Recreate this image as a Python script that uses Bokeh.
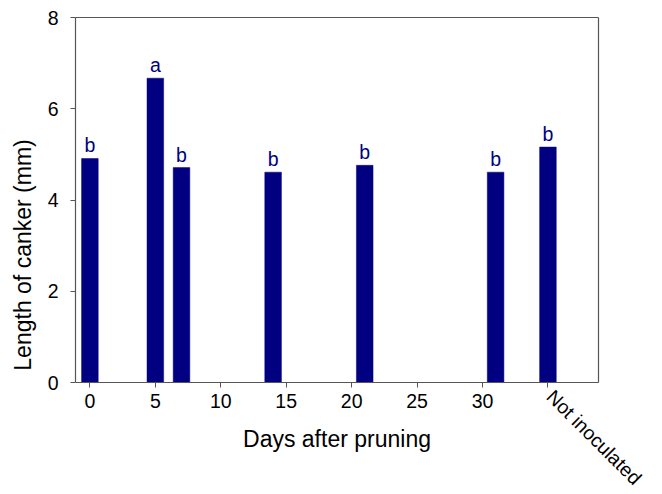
from bokeh.plotting import figure
from bokeh.models import FixedTicker, Label, Range1d, ColumnDataSource, LinearAxis
from bokeh.core.properties import value
from bokeh.embed import file_html
from bokeh.resources import INLINE
import math

# Data
days = [0, 5, 7, 14, 21, 31, 35]          # 35 = "Not inoculated" position
lengths = [4.91, 6.67, 4.71, 4.61, 4.76, 4.61, 5.16]
letters = ["b", "a", "b", "b", "b", "b", "b"]
x_ticks = [0, 5, 10, 15, 20, 25, 30, 35]
x_tick_labels = ["0", "5", "10", "15", "20", "25", "30", ""]
not_inoc_label = "Not inoculated"
y_ticks = [0, 2, 4, 6, 8]

# axis box limits (data units) and extended frame (room for rotated label)
X_LEFT, X_RIGHT = -1.1, 38.9
Y_BOTTOM, Y_TOP = 0, 8
X_FRAME_MAX = 43.6
Y_FRAME_MIN = -2.41

FONT = "Liberation Sans"
NAVY = "#000080"
AXIS = "#555555"

src = ColumnDataSource(dict(x=days, top=lengths, txt=letters))

p = figure(frame_width=585, frame_height=475,
           min_border_left=75, min_border_top=17, min_border_right=0, min_border_bottom=0,
           x_range=Range1d(X_LEFT, X_FRAME_MAX), y_range=Range1d(Y_FRAME_MIN, Y_TOP),
           x_axis_location=None,
           output_backend="svg", toolbar_location=None,
           background_fill_color="white", border_fill_color="white")
p.outline_line_color = None
p.xgrid.visible = False
p.ygrid.visible = False

p.vbar(x="x", top="top", bottom=0, width=1.27, source=src,
       fill_color=NAVY, line_color=NAVY, line_width=0.5)

p.text(x="x", y="top", text="txt", source=src,
       text_font=value(FONT), text_font_size="19.5px", text_color=NAVY,
       text_align="center", text_baseline="alphabetic", y_offset=-13)


def style(ax):
    ax.axis_line_color = AXIS
    ax.axis_line_width = 1.2
    ax.major_tick_line_color = AXIS
    ax.major_tick_in = 0
    ax.major_tick_out = 5
    ax.minor_tick_line_color = None
    ax.major_label_text_font = FONT
    ax.major_label_text_font_size = "19.5px"
    ax.major_label_text_color = "black"
    ax.axis_label_text_font = FONT
    ax.axis_label_text_font_size = "23px"
    ax.axis_label_text_font_style = "normal"
    ax.axis_label_text_color = "black"


# bottom axis, fixed at y=0 inside the extended frame
xax = LinearAxis(fixed_location=Y_BOTTOM, bounds=(X_LEFT, X_RIGHT))
style(xax)
xax.ticker = FixedTicker(ticks=x_ticks)
xax.major_label_overrides = {t: l for t, l in zip(x_ticks, x_tick_labels)}
xax.axis_label = "Days after pruning"
xax.major_label_standoff = 6
xax.axis_label_standoff = 15
p.add_layout(xax, "below")

# left axis
yax = p.yaxis[0]
style(yax)
yax.bounds = (Y_BOTTOM, Y_TOP)
yax.ticker = FixedTicker(ticks=y_ticks)
yax.axis_label = "Length of canker (mm)"
yax.major_label_standoff = 12
yax.axis_label_standoff = 9

# top and right box lines
top_ax = LinearAxis(bounds=(X_LEFT, X_RIGHT), ticker=FixedTicker(ticks=[]),
                    major_tick_out=0, major_tick_in=0, minor_tick_out=0, minor_tick_in=0,
                    major_label_standoff=0, axis_line_color=AXIS, axis_line_width=1.2)
p.add_layout(top_ax, "above")
right_ax = LinearAxis(fixed_location=X_RIGHT, bounds=(Y_BOTTOM, Y_TOP), ticker=FixedTicker(ticks=[]),
                      major_tick_out=0, major_tick_in=0, minor_tick_out=0, minor_tick_in=0,
                      major_label_standoff=0, axis_line_color=AXIS, axis_line_width=1.2)
p.add_layout(right_ax, "right")

p.add_layout(Label(x=x_ticks[-1], y=-0.06, x_offset=10, text=not_inoc_label,
                   angle=-math.pi / 4, text_font=FONT, text_font_size="19.5px",
                   text_color="black", text_align="left", text_baseline="top"))

open("out.html", "w").write(file_html(p, INLINE))
